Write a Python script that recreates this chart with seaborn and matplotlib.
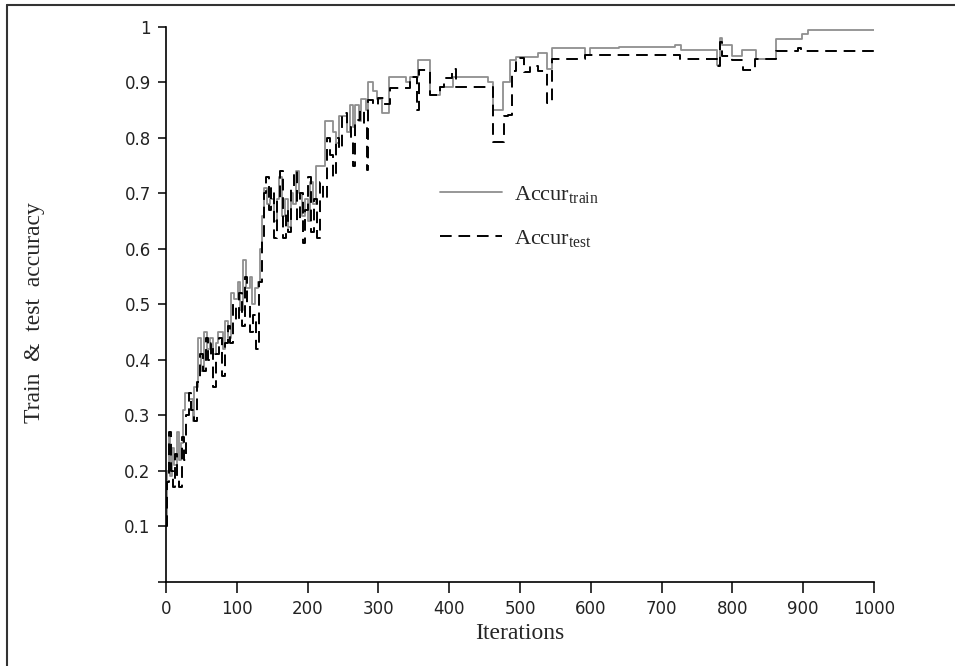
import numpy as np
import pandas as pd
import matplotlib
matplotlib.use("Agg")
import matplotlib.pyplot as plt
from matplotlib.lines import Line2D
import seaborn as sns

# step-change points (iteration, accuracy)
train_iter = [0, 2, 4, 6, 9, 12, 15, 18, 21, 24, 27, 32, 38, 40, 45, 50, 53, 58, 62, 66,
              70, 74, 80, 84, 88, 92, 96, 101, 105, 109, 113, 118, 122, 126, 130, 133, 136,
              139, 142, 147, 152, 157, 160, 164, 168, 172, 176, 180, 184, 188, 192, 196,
              200, 204, 208, 212, 225, 236, 240, 244, 250, 256, 260, 264, 267, 272, 276,
              282, 286, 293, 298, 305, 315, 339, 345, 356, 373, 387, 406, 455, 462, 476,
              486, 495, 526, 538, 545, 592, 599, 640, 719, 728, 778, 782, 786, 799, 814,
              834, 862, 898, 907, 1000]
train_acc = [0.10, 0.20, 0.26, 0.19, 0.24, 0.21, 0.27, 0.22, 0.25, 0.31, 0.34, 0.33, 0.29,
             0.35, 0.44, 0.38, 0.45, 0.42, 0.44, 0.41, 0.43, 0.45, 0.42, 0.47, 0.44, 0.52,
             0.51, 0.54, 0.49, 0.58, 0.53, 0.55, 0.50, 0.53, 0.54, 0.60, 0.66, 0.71, 0.68,
             0.69, 0.65, 0.69, 0.73, 0.66, 0.69, 0.64, 0.70, 0.68, 0.74, 0.70, 0.66, 0.69,
             0.65, 0.72, 0.68, 0.75, 0.83, 0.81, 0.79, 0.84, 0.84, 0.81, 0.86, 0.82, 0.86,
             0.83, 0.87, 0.85, 0.90, 0.885, 0.87, 0.845, 0.91, 0.90, 0.91, 0.94, 0.877,
             0.892, 0.91, 0.90, 0.85, 0.90, 0.94, 0.946, 0.953, 0.925, 0.963, 0.95, 0.962,
             0.964, 0.967, 0.958, 0.931, 0.98, 0.967, 0.948, 0.958, 0.943, 0.978, 0.988,
             0.994, 0.994]

test_iter = [0, 2, 4, 7, 10, 13, 16, 19, 22, 25, 28, 32, 36, 40, 44, 48, 52, 56, 60, 64,
             67, 70, 75, 79, 83, 87, 91, 95, 99, 103, 107, 111, 115, 119, 123, 127, 131,
             135, 138, 141, 145, 149, 153, 157, 161, 165, 169, 173, 177, 181, 185, 189,
             193, 197, 201, 205, 209, 213, 217, 222, 227, 232, 236, 240, 244, 248, 255,
             261, 264, 267, 274, 280, 284, 286, 293, 300, 308, 316, 345, 355, 358, 373,
             387, 392, 404, 410, 462, 478, 483, 488, 495, 505, 514, 526, 538, 545, 592,
             726, 778, 782, 786, 800, 815, 832, 862, 893, 897, 1000]
test_acc = [0.10, 0.18, 0.27, 0.20, 0.17, 0.23, 0.19, 0.17, 0.26, 0.22, 0.30, 0.34, 0.31,
            0.29, 0.36, 0.41, 0.38, 0.44, 0.40, 0.43, 0.35, 0.41, 0.44, 0.37, 0.43, 0.46,
            0.43, 0.50, 0.47, 0.52, 0.46, 0.55, 0.50, 0.45, 0.48, 0.42, 0.54, 0.62, 0.70,
            0.73, 0.67, 0.71, 0.62, 0.69, 0.74, 0.62, 0.67, 0.63, 0.71, 0.74, 0.65, 0.70,
            0.61, 0.67, 0.73, 0.63, 0.69, 0.62, 0.72, 0.69, 0.80, 0.77, 0.73, 0.80, 0.78,
            0.845, 0.82, 0.80, 0.75, 0.832, 0.85, 0.82, 0.742, 0.868, 0.86, 0.872, 0.862,
            0.89, 0.91, 0.85, 0.922, 0.877, 0.892, 0.908, 0.924, 0.892, 0.793, 0.84, 0.841,
            0.92, 0.944, 0.918, 0.93, 0.92, 0.863, 0.943, 0.9495, 0.943, 0.93, 0.9725,
            0.948, 0.9405, 0.922, 0.943, 0.957, 0.962, 0.957, 0.957]

x_ticks = [0, 100, 200, 300, 400, 500, 600, 700, 800, 900, 1000]
y_ticks = [0, 0.1, 0.2, 0.3, 0.4, 0.5, 0.6, 0.7, 0.8, 0.9, 1.0]
y_tick_labels = ["", "0.1", "0.2", "0.3", "0.4", "0.5", "0.6", "0.7", "0.8", "0.9", "1"]

sns.set_theme(style="ticks")
plt.rcParams["font.family"] = ["DejaVu Sans"]
plt.rcParams["mathtext.fontset"] = "custom"
plt.rcParams["mathtext.rm"] = "Liberation Serif"
plt.rcParams["mathtext.it"] = "Liberation Serif:italic"

fig = plt.figure(figsize=(9.55, 6.66), dpi=100)
ax = fig.add_axes([166 / 955, 1 - 581.5 / 666, 708 / 955, 554.5 / 666])

train = pd.DataFrame({"iter": train_iter, "acc": train_acc})
test = pd.DataFrame({"iter": test_iter, "acc": test_acc})

sns.lineplot(data=train, x="iter", y="acc", ax=ax, color="#8f8f8f", linewidth=1.3,
             drawstyle="steps-post", label=r"Accur$_{\mathrm{train}}$")
sns.lineplot(data=test, x="iter", y="acc", ax=ax, color="black", linewidth=1.4,
             linestyle=(0, (6, 3.5)), drawstyle="steps-post",
             label=r"Accur$_{\mathrm{test}}$")

ax.set_xlim(0, 1000)
ax.set_ylim(0, 1)
ax.set_xticks(x_ticks)
ax.set_yticks(y_ticks)
ax.set_yticklabels(y_tick_labels)
for s in ["top", "right"]:
    ax.spines[s].set_visible(False)
for s in ["left", "bottom"]:
    ax.spines[s].set_linewidth(1.2)
    ax.spines[s].set_color("black")
ax.tick_params(axis="x", length=8, width=1.1, pad=5, labelsize=12, colors="black",
               labelcolor="#222222")
ax.tick_params(axis="y", length=6, width=1.1, pad=5, labelsize=12, colors="black",
               labelcolor="#222222")

ax.set_xlabel("Iterations", fontsize=17, family="Liberation Serif")
ax.set_ylabel("Train  &  test  accuracy", fontsize=17, family="Liberation Serif")
ax.xaxis.set_label_coords(0.5, -0.075)
ax.yaxis.set_label_coords(-0.171, 0.485)

leg = ax.legend(loc="upper left", bbox_to_anchor=(0.387, 0.717), frameon=False,
                prop={"family": "Liberation Serif", "size": 16}, handlelength=2.8,
                handletextpad=0.55, labelspacing=1.05, borderpad=0, borderaxespad=0)

# outer frame (left and top edges visible)
fig.add_artist(Line2D([7 / 955, 1.0], [1 - 5 / 666, 1 - 5 / 666], color="#333333", lw=1.5))
fig.add_artist(Line2D([7 / 955, 7 / 955], [0.0, 1 - 5 / 666], color="#333333", lw=1.5))

fig.savefig("out.png", dpi=100)
